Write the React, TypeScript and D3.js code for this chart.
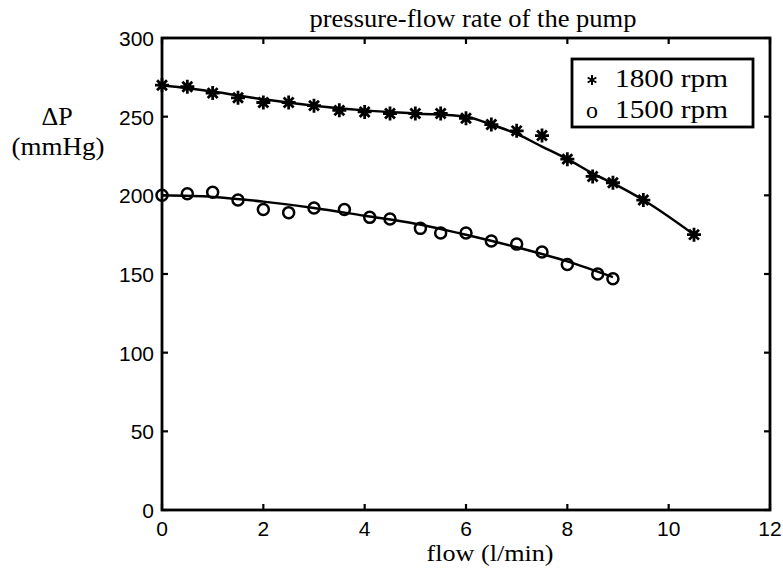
import React from 'react';
import * as d3 from 'd3';

// measured points, 1800 rpm
const flow1800 = [0, 0.5, 1, 1.5, 2, 2.5, 3, 3.5, 4, 4.5, 5, 5.5, 6, 6.5, 7, 7.5, 8, 8.5, 8.9, 9.5, 10.5];
const dp1800 = [270, 269, 265, 262, 259, 259, 257, 254, 253, 252, 252, 252, 249, 245, 241, 238, 223, 212, 208, 197, 175];
// fitted curve, 1800 rpm
const fitFlow1800 = [0, 1, 2, 3, 4, 5, 6, 6.5, 7, 7.5, 8, 8.5, 9, 9.5, 10.5];
const fitDp1800 = [270, 266, 261, 257, 254, 252, 250, 245, 239, 231, 223, 214, 206, 197, 175];

// measured points, 1500 rpm
const flow1500 = [0, 0.5, 1, 1.5, 2, 2.5, 3, 3.6, 4.1, 4.5, 5.1, 5.5, 6, 6.5, 7, 7.5, 8, 8.6, 8.9];
const dp1500 = [200, 201, 202, 197, 191, 189, 192, 191, 186, 185, 179, 176, 176, 171, 169, 164, 156, 150, 147];
// fitted curve, 1500 rpm
const fitFlow1500 = [0, 1, 2, 3, 4, 5, 6, 7, 8, 8.9];
const fitDp1500 = [200, 199, 196, 192, 187, 182, 175, 167, 158, 148];

const xTicks = [0, 2, 4, 6, 8, 10, 12];
const yTicks = [0, 50, 100, 150, 200, 250, 300];
const legendLabels = ['1800 rpm', '1500 rpm'];

const W = 783;
const H = 574;
const left = 162, right = 770, top = 38, bottom = 510;
const serif = '"Liberation Serif", "Times New Roman", serif';
const sans = '"Liberation Sans", Arial, sans-serif';

const x = d3.scaleLinear().domain([0, 12]).range([left, right]);
const y = d3.scaleLinear().domain([0, 300]).range([bottom, top]);

const line = d3.line<[number, number]>()
  .x(d => x(d[0]))
  .y(d => y(d[1]))
  .curve(d3.curveMonotoneX);

const Star = ({ cx, cy, r = 7, arms = 4, w = 2.8 }: { cx: number; cy: number; r?: number; arms?: number; w?: number }) => {
  const d = d3.range(arms).map(k => {
    const t = (k * Math.PI) / arms + (arms === 3 ? Math.PI / 2 : 0);
    const dx = Math.cos(t) * r, dy = Math.sin(t) * r;
    return `M${cx - dx},${cy - dy}L${cx + dx},${cy + dy}`;
  }).join('');
  return <path d={d} stroke="#000" strokeWidth={w} fill="none" />;
};

export default function App() {
  const fit1800 = fitFlow1800.map((f, i) => [f, fitDp1800[i]] as [number, number]);
  const fit1500 = fitFlow1500.map((f, i) => [f, fitDp1500[i]] as [number, number]);
  const tick = 6;

  return (
    <svg width={W} height={H} style={{ position: 'absolute', left: 0, top: 0, background: '#fff' }}>
      <text x={473} y={27} textAnchor="middle" fontFamily={serif} fontSize={26}
        textLength={327} lengthAdjust="spacingAndGlyphs">
        pressure-flow rate of the pump
      </text>

      {/* ticks, mirrored on all four sides */}
      {xTicks.map(t => (
        <g key={'x' + t}>
          <line x1={x(t)} x2={x(t)} y1={bottom} y2={bottom - tick} stroke="#000" strokeWidth={2.2} />
          <line x1={x(t)} x2={x(t)} y1={top} y2={top + tick} stroke="#000" strokeWidth={2.2} />
          <text x={x(t)} y={bottom + 26} textAnchor="middle" fontFamily={sans} fontSize={21}>{t}</text>
        </g>
      ))}
      {yTicks.map(t => (
        <g key={'y' + t}>
          <line x1={left} x2={left + tick} y1={y(t)} y2={y(t)} stroke="#000" strokeWidth={2.2} />
          <line x1={right} x2={right - tick} y1={y(t)} y2={y(t)} stroke="#000" strokeWidth={2.2} />
          <text x={left - 8} y={y(t) + 8} textAnchor="end" fontFamily={sans} fontSize={21}>{t}</text>
        </g>
      ))}

      <rect x={left} y={top} width={right - left} height={bottom - top} fill="none" stroke="#000" strokeWidth={2.8} />

      <path d={line(fit1800) ?? ''} fill="none" stroke="#000" strokeWidth={2.5} />
      <path d={line(fit1500) ?? ''} fill="none" stroke="#000" strokeWidth={2.5} />

      {flow1800.map((f, i) => (
        <Star key={'s' + i} cx={x(f)} cy={y(dp1800[i])} />
      ))}
      {flow1500.map((f, i) => (
        <circle key={'c' + i} cx={x(f)} cy={y(dp1500[i])} r={5.5} fill="none" stroke="#000" strokeWidth={2.5} />
      ))}

      {/* legend */}
      <rect x={572} y={59} width={181} height={68} fill="#fff" stroke="#000" strokeWidth={2.8} />
      <Star cx={592} cy={80} r={5} arms={3} w={2} />
      <text x={592} y={118} textAnchor="middle" fontFamily={serif} fontSize={24}>o</text>
      <text x={615} y={87} fontFamily={serif} fontSize={25} textLength={113} lengthAdjust="spacingAndGlyphs">{legendLabels[0]}</text>
      <text x={615} y={118} fontFamily={serif} fontSize={25} textLength={113} lengthAdjust="spacingAndGlyphs">{legendLabels[1]}</text>

      <text x={490} y={561} textAnchor="middle" fontFamily={serif} fontSize={24}
        textLength={127} lengthAdjust="spacingAndGlyphs">flow (l/min)</text>
      <text x={57} y={125} textAnchor="middle" fontFamily={serif} fontSize={26}>ΔP</text>
      <text x={58} y={155} textAnchor="middle" fontFamily={serif} fontSize={26}
        textLength={93} lengthAdjust="spacingAndGlyphs">(mmHg)</text>
    </svg>
  );
}
